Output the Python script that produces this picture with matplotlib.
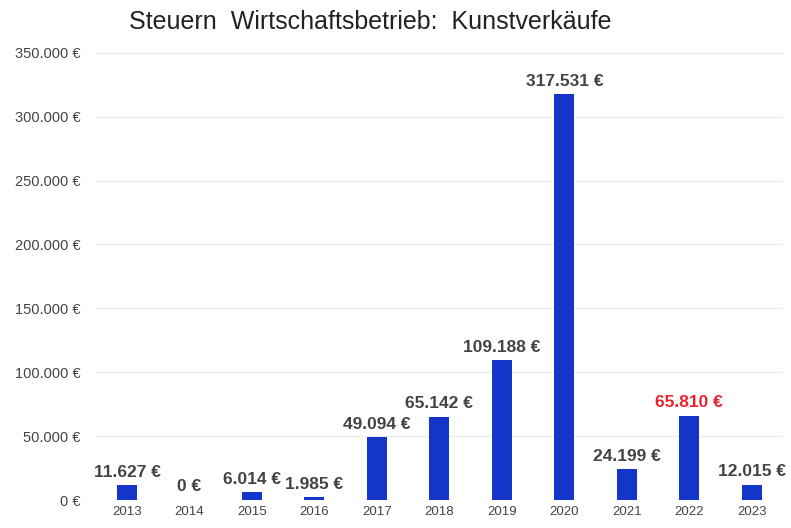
import matplotlib.pyplot as plt
from matplotlib.ticker import FuncFormatter

plt.rcParams['font.family'] = ['Liberation Sans', 'DejaVu Sans']

years = ['2013', '2014', '2015', '2016', '2017', '2018',
         '2019', '2020', '2021', '2022', '2023']
amounts = [11627, 0, 6014, 1985, 49094, 65142,
           109188, 317531, 24199, 65810, 12015]
highlight_year = '2022'
y_ticks = [0, 50000, 100000, 150000, 200000, 250000, 300000, 350000]


def euro(v):
    # German thousands separator
    return f"{int(round(v)):,} €".replace(',', '.')


fig = plt.figure(figsize=(7.91, 5.28), dpi=100)
ax = fig.add_axes([0.121, 0.053, 0.869, 0.847])

x = range(len(years))
bars = ax.bar(x, amounts, width=0.32, color='#1534C8', zorder=3)

ax.set_xlim(-0.5, len(years) - 0.5)
ax.set_ylim(0, 350000)
ax.set_yticks(y_ticks)
ax.yaxis.set_major_formatter(FuncFormatter(lambda v, p: euro(v)))
ax.set_xticks(list(x))
ax.set_xticklabels(years)
ax.grid(axis='y', color='#ebebeb', linewidth=1, zorder=0)
for s in ax.spines.values():
    s.set_visible(False)
ax.tick_params(axis='both', length=0, labelcolor='#444444')
ax.tick_params(axis='y', pad=11, labelsize=10.5)
ax.tick_params(axis='x', pad=4, labelsize=9.5)

for bar, year, val in zip(bars, years, amounts):
    color = '#E8232B' if year == highlight_year else '#444444'
    ax.annotate(euro(val), (bar.get_x() + bar.get_width() / 2, val),
                xytext=(0, 4), textcoords='offset points',
                ha='center', va='bottom', fontsize=12.5,
                fontweight='bold', color=color, zorder=4)

fig.text(0.468, 0.958, 'Steuern  Wirtschaftsbetrieb:  Kunstverkäufe',
         ha='center', va='center', fontsize=18, color='#222222')

plt.savefig('out.png', dpi=100)
plt.close()
